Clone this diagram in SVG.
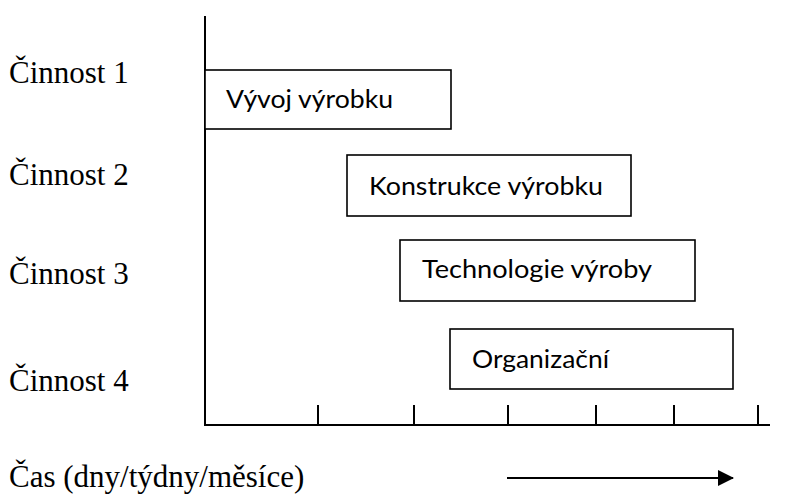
<svg xmlns="http://www.w3.org/2000/svg" width="789" height="499" viewBox="0 0 789 499">
  <style>
    .axis { stroke: #000; stroke-width: 2; fill: none; }
    .bar { fill: #fff; stroke: #000; stroke-width: 1.6; }
    .bar-label { font-family: Lato, "Open Sans", sans-serif; font-size: 25.5px; fill: #000; }
    .row-label { font-family: "Liberation Serif", "Times New Roman", serif; font-size: 31px; fill: #000; }
  </style>
  <defs>
    <marker id="arrowhead" markerWidth="16" markerHeight="16" refX="15" refY="8" orient="auto" markerUnits="userSpaceOnUse">
      <path d="M0,0 L16,8 L0,16 Z" fill="#000"/>
    </marker>
  </defs>
  <rect width="789" height="499" fill="#fff"/>

  <!-- axes and time ticks -->
  <g id="connectors">
    <path class="axis" d="M205,16 V425 H770"/>
    <path class="axis" d="M318,405 V425 M414,405 V425 M508,405 V425 M596,405 V425 M674,405 V425 M758,405 V425"/>
    <line x1="507" y1="478" x2="733" y2="478" stroke="#000" stroke-width="2.2" marker-end="url(#arrowhead)"/>
  </g>

  <!-- activity labels -->
  <g id="row-labels">
    <text class="row-label" x="9" y="83">Činnost 1</text>
    <text class="row-label" x="9" y="185">Činnost 2</text>
    <text class="row-label" x="9" y="284">Činnost 3</text>
    <text class="row-label" x="9" y="391">Činnost 4</text>
  </g>

  <!-- activity bars -->
  <g id="bar-vyvoj">
    <rect class="bar" x="205" y="70" width="246" height="59"/>
    <text class="bar-label" x="226" y="108" textLength="167" lengthAdjust="spacingAndGlyphs">Vývoj výrobku</text>
  </g>
  <g id="bar-konstrukce">
    <rect class="bar" x="347" y="155" width="284" height="61"/>
    <text class="bar-label" x="369" y="195" textLength="234" lengthAdjust="spacingAndGlyphs">Konstrukce výrobku</text>
  </g>
  <g id="bar-technologie">
    <rect class="bar" x="400" y="240" width="295" height="61"/>
    <text class="bar-label" x="422" y="278" textLength="230" lengthAdjust="spacingAndGlyphs">Technologie výroby</text>
  </g>
  <g id="bar-organizacni">
    <rect class="bar" x="450" y="329" width="283" height="60"/>
    <text class="bar-label" x="472" y="368" textLength="137" lengthAdjust="spacingAndGlyphs">Organizační</text>
  </g>

  <!-- time axis caption -->
  <g id="time-caption">
    <text class="row-label" x="9" y="487">Čas (dny/týdny/měsíce)</text>
  </g>
</svg>
